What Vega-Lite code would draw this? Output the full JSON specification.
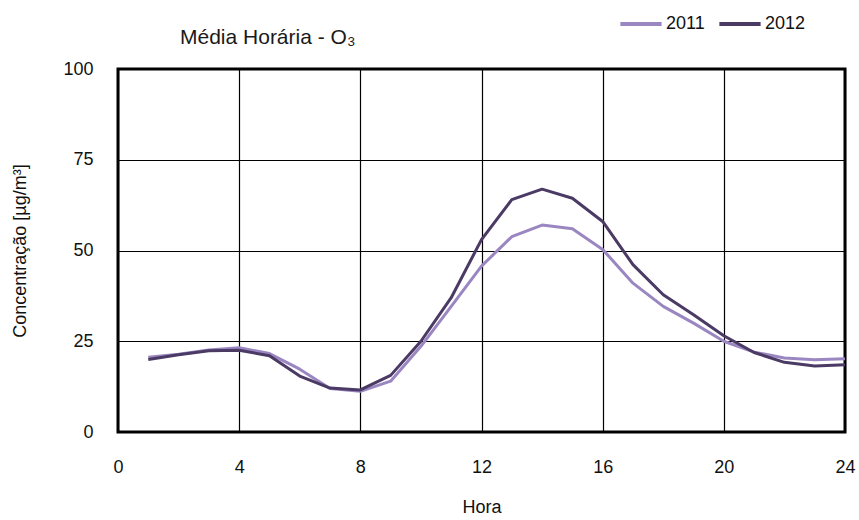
{
  "$schema": "https://vega.github.io/schema/vega-lite/v6.json",
  "autosize": {"type": "none"},
  "width": 727,
  "height": 363,
  "padding": {"left": 118, "top": 69, "right": 14, "bottom": 88},
  "background": "white",
  "title": {
    "text": "Média Horária - O₃",
    "anchor": "start",
    "dx": 62,
    "dy": 47,
    "offset": 0,
    "frame": "group",
    "font": "Liberation Sans",
    "fontSize": 21,
    "fontWeight": "normal",
    "color": "#1a1a1a"
  },
  "config": {
    "view": {"stroke": "black", "strokeWidth": 3},
    "axis": {
      "labelFont": "Liberation Sans",
      "titleFont": "Liberation Sans",
      "labelFontSize": 18,
      "titleFontSize": 18,
      "titleFontWeight": "normal",
      "labelColor": "#111",
      "titleColor": "#111",
      "domain": false,
      "ticks": false,
      "gridColor": "black",
      "gridOpacity": 1,
      "gridWidth": 1.2
    }
  },
  "data": {
    "values": [
      {"hora": 1, "ano": "2011", "o3": 20.6},
      {"hora": 2, "ano": "2011", "o3": 21.4},
      {"hora": 3, "ano": "2011", "o3": 22.6},
      {"hora": 4, "ano": "2011", "o3": 23.2},
      {"hora": 5, "ano": "2011", "o3": 21.6},
      {"hora": 6, "ano": "2011", "o3": 17.3},
      {"hora": 7, "ano": "2011", "o3": 12.0},
      {"hora": 8, "ano": "2011", "o3": 11.2},
      {"hora": 9, "ano": "2011", "o3": 14.0},
      {"hora": 10, "ano": "2011", "o3": 23.6},
      {"hora": 11, "ano": "2011", "o3": 34.6},
      {"hora": 12, "ano": "2011", "o3": 45.7},
      {"hora": 13, "ano": "2011", "o3": 53.8},
      {"hora": 14, "ano": "2011", "o3": 57.0},
      {"hora": 15, "ano": "2011", "o3": 56.0},
      {"hora": 16, "ano": "2011", "o3": 50.3},
      {"hora": 17, "ano": "2011", "o3": 41.0},
      {"hora": 18, "ano": "2011", "o3": 34.6},
      {"hora": 19, "ano": "2011", "o3": 30.0},
      {"hora": 20, "ano": "2011", "o3": 25.0},
      {"hora": 21, "ano": "2011", "o3": 22.0},
      {"hora": 22, "ano": "2011", "o3": 20.4},
      {"hora": 23, "ano": "2011", "o3": 19.9},
      {"hora": 24, "ano": "2011", "o3": 20.2},
      {"hora": 1, "ano": "2012", "o3": 20.0},
      {"hora": 2, "ano": "2012", "o3": 21.3},
      {"hora": 3, "ano": "2012", "o3": 22.4},
      {"hora": 4, "ano": "2012", "o3": 22.5},
      {"hora": 5, "ano": "2012", "o3": 21.0},
      {"hora": 6, "ano": "2012", "o3": 15.4},
      {"hora": 7, "ano": "2012", "o3": 12.1},
      {"hora": 8, "ano": "2012", "o3": 11.6},
      {"hora": 9, "ano": "2012", "o3": 15.6},
      {"hora": 10, "ano": "2012", "o3": 25.0},
      {"hora": 11, "ano": "2012", "o3": 37.0},
      {"hora": 12, "ano": "2012", "o3": 53.0},
      {"hora": 13, "ano": "2012", "o3": 64.0},
      {"hora": 14, "ano": "2012", "o3": 66.9},
      {"hora": 15, "ano": "2012", "o3": 64.4},
      {"hora": 16, "ano": "2012", "o3": 58.0},
      {"hora": 17, "ano": "2012", "o3": 46.1},
      {"hora": 18, "ano": "2012", "o3": 37.8},
      {"hora": 19, "ano": "2012", "o3": 32.3},
      {"hora": 20, "ano": "2012", "o3": 26.5},
      {"hora": 21, "ano": "2012", "o3": 21.9},
      {"hora": 22, "ano": "2012", "o3": 19.2},
      {"hora": 23, "ano": "2012", "o3": 18.2},
      {"hora": 24, "ano": "2012", "o3": 18.5}
    ]
  },
  "mark": {"type": "line", "strokeWidth": 3, "strokeJoin": "round"},
  "encoding": {
    "x": {
      "field": "hora",
      "type": "quantitative",
      "title": "Hora",
      "scale": {"domain": [0, 24], "nice": false},
      "axis": {"values": [0, 4, 8, 12, 16, 20, 24], "labelPadding": 26, "titlePadding": 22, "labelFlush": false}
    },
    "y": {
      "field": "o3",
      "type": "quantitative",
      "title": "Concentração [µg/m³]",
      "scale": {"domain": [0, 100], "nice": false},
      "axis": {"values": [0, 25, 50, 75, 100], "labelPadding": 25, "titlePadding": 33}
    },
    "color": {
      "field": "ano",
      "type": "nominal",
      "scale": {"domain": ["2011", "2012"], "range": ["#9a86c0", "#4a3a64"]},
      "legend": {
        "title": null,
        "orient": "none",
        "direction": "horizontal",
        "legendX": 500,
        "legendY": -68,
        "symbolType": "stroke",
        "symbolSize": 1700,
        "symbolStrokeWidth": 4,
        "labelFont": "Liberation Sans",
        "labelFontSize": 18,
        "labelColor": "#111",
        "labelOffset": 2,
        "columnPadding": 6
      }
    }
  }
}
